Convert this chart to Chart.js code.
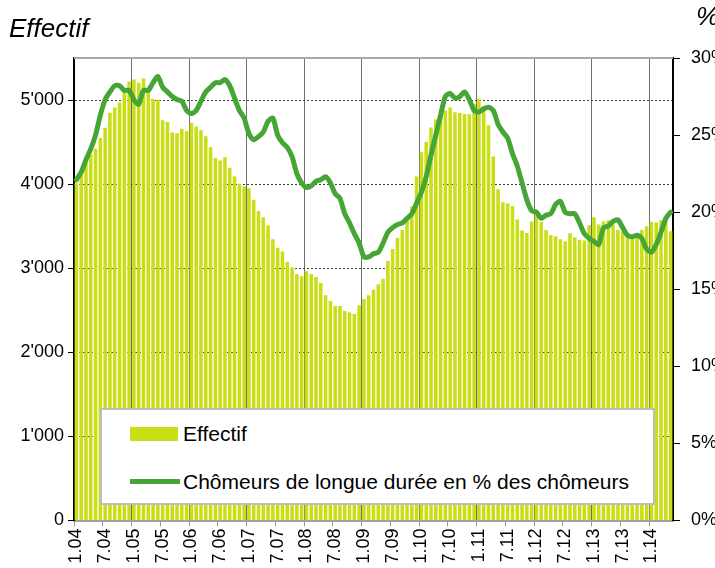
<!DOCTYPE html>
<html>
<head>
<meta charset="utf-8">
<script src="https://cdn.jsdelivr.net/npm/chart.js@4/dist/chart.umd.min.js"></script>
<style>
  body { margin: 0; background: #fff; }
  #wrap { position: relative; width: 715px; height: 568px; overflow: hidden; font-family: "Liberation Sans", Arial, sans-serif; }
  .title { position: absolute; font-style: italic; font-size: 26px; color: #000; }
  #legend { position: absolute; left: 100px; top: 408px; width: 555px; height: 97px; box-sizing: border-box;
            border: 2px solid #bdbdbd; background: #fff; }
  .sw { position: absolute; }
  .lt { position: absolute; font-size: 21px; color: #000; line-height: 21px; }
</style>
</head>
<body>
<div id="wrap">
  <canvas id="myChart" width="715" height="568"></canvas>
  <div class="title" style="left:9px; top:13px;">Effectif</div>
  <div class="title" style="left:696px; top:1px;">%</div>
  <div id="legend">
    <div class="sw" style="left:28px; top:17px; width:48px; height:14px; background:#c9de14;"></div>
    <div class="lt" style="left:81px; top:13px;">Effectif</div>
    <div class="sw" style="left:28px; top:69px; width:50px; height:5px; background:#45a535;"></div>
    <div class="lt" style="left:81px; top:61px;">Chômeurs de longue durée en % des chômeurs</div>
  </div>
</div>
<script>
// month labels m.yy, Jan 2004 - May 2014
const months = [];
for (let y = 4; y <= 14; y++) {
  for (let m = 1; m <= 12; m++) {
    if (y === 14 && m > 5) break;
    months.push(m + '.' + String(y).padStart(2, '0'));
  }
}

const effectifTicks = [0, 1000, 2000, 3000, 4000, 5000];

const effectif = [
  4010,4150,4260,4350,4420,4550,4670,4850,4910,4970,5090,5220,
  5245,5205,5255,5100,5015,5005,4760,4740,4615,4605,4660,4630,
  4730,4685,4645,4570,4440,4310,4280,4320,4195,4090,4005,3975,
  3950,3815,3680,3605,3510,3345,3245,3200,3075,3010,2930,2905,
  2965,2930,2895,2825,2680,2610,2550,2550,2490,2475,2455,2560,
  2635,2680,2745,2810,2875,3085,3230,3360,3455,3570,3735,4090,
  4380,4505,4675,4770,4820,4875,4910,4855,4845,4835,4830,4955,
  5015,4880,4700,4330,3940,3785,3770,3740,3580,3450,3420,3555,
  3640,3550,3455,3395,3380,3345,3320,3415,3365,3340,3330,3510,
  3605,3520,3555,3570,3520,3455,3440,3380,3370,3400,3455,3500,
  3550,3545,3570,3590,3440
];

const chomeursLD = [
  22.1,22.6,23.4,24.1,25.0,26.3,27.3,27.8,28.2,28.2,27.9,27.9,
  27.3,27.0,27.9,27.9,28.4,28.8,28.1,27.8,27.5,27.3,27.2,26.6,
  26.4,26.6,27.2,27.8,28.1,28.4,28.4,28.6,28.2,27.4,26.6,26.1,
  25.1,24.7,24.9,25.2,25.9,26.1,25.0,24.5,24.2,23.6,22.5,21.9,
  21.6,21.7,22.0,22.1,22.3,21.9,21.2,20.9,19.9,19.3,18.6,18.0,
  17.1,17.1,17.3,17.4,18.0,18.7,19.0,19.2,19.3,19.6,19.9,20.6,
  21.3,22.3,23.7,25.0,26.3,27.5,27.7,27.4,27.5,27.8,27.3,26.6,
  26.5,26.7,26.8,26.6,25.7,25.2,24.8,23.8,23.0,21.9,20.8,20.1,
  20.0,19.6,19.8,19.9,20.5,20.7,20.0,19.9,19.9,19.3,18.6,18.3,
  18.1,17.9,19.0,19.1,19.4,19.5,19.0,18.5,18.4,18.5,18.3,17.6,
  17.4,17.9,18.7,19.6,20.0
];

const fontFamily = '"Liberation Sans", Arial, sans-serif';
Chart.defaults.font.family = fontFamily;
Chart.defaults.color = '#000';

function fmtThousands(v) {
  if (v === 0) return '0';
  return Math.floor(v / 1000) + "'" + String(v % 1000).padStart(3, '0');
}

// grey frame line on top of the plot area
const topBorder = {
  id: 'topBorder',
  beforeDatasetsDraw(chart) {
    const {ctx, chartArea} = chart;
    ctx.save();
    ctx.strokeStyle = '#a8a8a8';
    ctx.lineWidth = 2;
    ctx.beginPath();
    ctx.moveTo(chartArea.left, chartArea.top);
    ctx.lineTo(chartArea.right, chartArea.top);
    ctx.stroke();
    ctx.restore();
  }
};

const ctx = document.getElementById('myChart').getContext('2d');

const chart = new Chart(ctx, {
  type: 'bar',
  data: {
    labels: months,
    datasets: [
      {
        type: 'line',
        label: 'Chômeurs de longue durée en % des chômeurs',
        data: chomeursLD,
        yAxisID: 'y1',
        order: 0,
        borderColor: '#45a535',
        borderWidth: 5,
        pointRadius: 0,
        tension: 0.25,
        borderJoinStyle: 'round',
        borderCapStyle: 'round',
        fill: false
      },
      {
        type: 'bar',
        label: 'Effectif',
        data: effectif,
        yAxisID: 'y',
        order: 1,
        backgroundColor: '#c9de14',
        barPercentage: 0.74,
        categoryPercentage: 1
      }
    ]
  },
  options: {
    responsive: false,
    animation: false,
    layout: { padding: { top: 58, left: 0, right: 0, bottom: 0 } },
    plugins: {
      legend: { display: false },
      tooltip: { enabled: false }
    },
    scales: {
      x: {
        offset: true,
        grid: {
          offset: true,
          color: c => (c.index % 12 === 0 ? '#6e6e6e' : 'transparent'),
          tickColor: c => (c.index % 6 === 0 ? '#9a9a9a' : 'transparent'),
          tickLength: 6,
          lineWidth: 1
        },
        border: { color: '#a0a0a0', width: 2 },
        ticks: {
          autoSkip: false,
          maxRotation: 90,
          minRotation: 90,
          padding: 2,
          font: { size: 18 },
          callback: (v, i) => (i % 6 === 0 ? months[i] : '')
        },
        afterFit: s => { s.height = 47.5; }
      },
      y: {
        position: 'left',
        min: 0,
        max: 5500,
        ticks: {
          padding: 4,
          font: { size: 18 },
          callback: v => fmtThousands(v)
        },
        afterBuildTicks: s => { s.ticks = effectifTicks.map(v => ({value: v})); },
        grid: {
          color: c => (c.tick && c.tick.value === 0 ? 'transparent' : '#3c3c3c'),
          tickColor: '#000',
          tickLength: 6,
          lineWidth: 1
        },
        border: { color: '#000', width: 2, dash: [2, 2] },
        afterFit: s => { s.width = 74; }
      },
      y1: {
        position: 'right',
        min: 0,
        max: 30,
        ticks: {
          stepSize: 5,
          padding: 11,
          font: { size: 18 },
          callback: v => v + '%'
        },
        grid: {
          drawOnChartArea: false,
          tickColor: '#000',
          tickLength: 7
        },
        border: { color: '#000', width: 2 },
        afterFit: s => { s.width = 42; }
      }
    }
  },
  plugins: [topBorder]
});
</script>
</body>
</html>
